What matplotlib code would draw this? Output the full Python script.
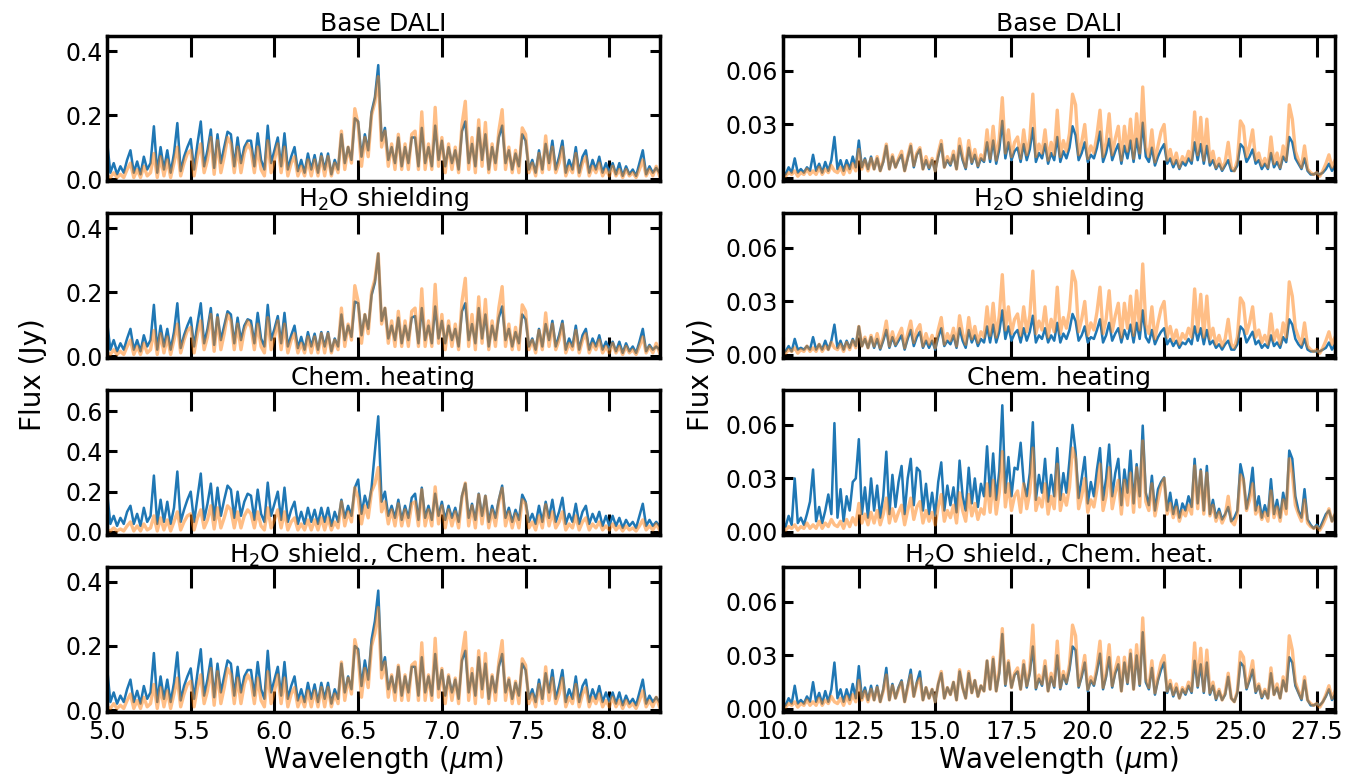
import numpy as np
import matplotlib
matplotlib.use("Agg")
import matplotlib.pyplot as plt

plt.rcParams['font.family'] = ['DejaVu Sans']

# sampling of the read-off spectra (micron)
short_start, short_step = 5.0, 0.02
long_start, long_step = 10.0, 0.1

titles = ["Base DALI", "H$_2$O shielding", "Chem. heating", "H$_2$O shield., Chem. heat."]

# orange spectrum (same in every row), short wavelengths
orange_short = [
    0.01, 0.005, 0.02, 0.005, 0.015, 0.005, 0.03, 0.05, 0.005, 0.03,
    0.005, 0.04, 0.01, 0.02, 0.08, 0.005, 0.07, 0.01, 0.06, 0.005,
    0.05, 0.10, 0.01, 0.05, 0.08, 0.09, 0.01, 0.07, 0.11, 0.02,
    0.06, 0.13, 0.015, 0.12, 0.02, 0.07, 0.13, 0.11, 0.02, 0.10,
    0.02, 0.08, 0.11, 0.09, 0.02, 0.10, 0.03, 0.01, 0.12, 0.02,
    0.06, 0.11, 0.02, 0.10, 0.01, 0.05, 0.07, 0.01, 0.04, 0.01,
    0.06, 0.01, 0.06, 0.01, 0.07, 0.01, 0.07, 0.01, 0.05, 0.02,
    0.15, 0.03, 0.10, 0.05, 0.22, 0.17, 0.04, 0.13, 0.07, 0.20,
    0.24, 0.32, 0.10, 0.15, 0.04, 0.11, 0.03, 0.14, 0.03, 0.11,
    0.03, 0.14, 0.15, 0.03, 0.21, 0.03, 0.11, 0.03, 0.224, 0.04,
    0.13, 0.02, 0.11, 0.03, 0.10, 0.02, 0.17, 0.243, 0.03, 0.13,
    0.02, 0.185, 0.04, 0.177, 0.02, 0.11, 0.03, 0.15, 0.217, 0.03,
    0.10, 0.02, 0.09, 0.02, 0.16, 0.14, 0.02, 0.05, 0.01, 0.08,
    0.02, 0.135, 0.03, 0.10, 0.02, 0.05, 0.10, 0.01, 0.04, 0.02,
    0.08, 0.01, 0.05, 0.07, 0.01, 0.04, 0.02, 0.05, 0.01, 0.03,
    0.01, 0.04, 0.01, 0.03, 0.005, 0.03, 0.01, 0.02, 0.005, 0.03,
    0.06, 0.01, 0.03, 0.01, 0.04, 0.01]

base_short = [
    0.12, 0.02, 0.05, 0.015, 0.04, 0.02, 0.06, 0.09, 0.02, 0.055,
    0.015, 0.07, 0.03, 0.05, 0.165, 0.02, 0.10, 0.03, 0.09, 0.02,
    0.08, 0.175, 0.025, 0.07, 0.10, 0.125, 0.03, 0.11, 0.18, 0.04,
    0.09, 0.155, 0.035, 0.14, 0.05, 0.10, 0.148, 0.14, 0.04, 0.13,
    0.05, 0.10, 0.12, 0.12, 0.04, 0.143, 0.06, 0.03, 0.167, 0.05,
    0.09, 0.13, 0.04, 0.143, 0.03, 0.07, 0.10, 0.025, 0.06, 0.02,
    0.08, 0.03, 0.075, 0.02, 0.08, 0.03, 0.08, 0.015, 0.06, 0.03,
    0.14, 0.05, 0.10, 0.06, 0.19, 0.18, 0.07, 0.14, 0.09, 0.21,
    0.255, 0.356, 0.12, 0.16, 0.06, 0.10, 0.05, 0.13, 0.04, 0.10,
    0.05, 0.13, 0.13, 0.04, 0.16, 0.05, 0.10, 0.04, 0.167, 0.06,
    0.12, 0.04, 0.10, 0.05, 0.09, 0.03, 0.15, 0.18, 0.05, 0.11,
    0.04, 0.16, 0.06, 0.14, 0.03, 0.10, 0.05, 0.13, 0.167, 0.05,
    0.09, 0.03, 0.08, 0.04, 0.14, 0.12, 0.03, 0.06, 0.02, 0.09,
    0.03, 0.11, 0.05, 0.12, 0.03, 0.07, 0.12, 0.02, 0.06, 0.03,
    0.10, 0.02, 0.07, 0.09, 0.02, 0.06, 0.03, 0.07, 0.02, 0.05,
    0.02, 0.05, 0.015, 0.05, 0.01, 0.04, 0.015, 0.03, 0.01, 0.05,
    0.09, 0.015, 0.04, 0.02, 0.035, 0.02]

shield_short = [
    0.11, 0.02, 0.05, 0.015, 0.04, 0.02, 0.055, 0.085, 0.02, 0.05,
    0.015, 0.065, 0.03, 0.05, 0.16, 0.02, 0.095, 0.03, 0.085, 0.02,
    0.075, 0.165, 0.025, 0.065, 0.095, 0.12, 0.03, 0.10, 0.165, 0.04,
    0.085, 0.15, 0.035, 0.13, 0.05, 0.095, 0.14, 0.13, 0.04, 0.12,
    0.05, 0.095, 0.115, 0.11, 0.04, 0.135, 0.055, 0.03, 0.16, 0.05,
    0.085, 0.125, 0.04, 0.135, 0.03, 0.065, 0.095, 0.025, 0.06, 0.02,
    0.075, 0.03, 0.07, 0.02, 0.075, 0.03, 0.075, 0.015, 0.055, 0.03,
    0.13, 0.05, 0.095, 0.06, 0.17, 0.165, 0.065, 0.13, 0.085, 0.19,
    0.23, 0.32, 0.11, 0.15, 0.055, 0.095, 0.05, 0.12, 0.04, 0.095,
    0.05, 0.12, 0.125, 0.04, 0.15, 0.05, 0.095, 0.04, 0.155, 0.055,
    0.11, 0.04, 0.095, 0.05, 0.085, 0.03, 0.14, 0.165, 0.05, 0.10,
    0.04, 0.15, 0.055, 0.13, 0.03, 0.095, 0.05, 0.12, 0.155, 0.05,
    0.085, 0.03, 0.075, 0.04, 0.13, 0.115, 0.03, 0.055, 0.02, 0.085,
    0.03, 0.10, 0.05, 0.11, 0.03, 0.065, 0.11, 0.02, 0.055, 0.03,
    0.095, 0.02, 0.065, 0.085, 0.02, 0.055, 0.03, 0.065, 0.02, 0.045,
    0.02, 0.045, 0.015, 0.045, 0.01, 0.04, 0.015, 0.03, 0.01, 0.045,
    0.085, 0.015, 0.035, 0.02, 0.03, 0.02]

chem_short = [
    0.20, 0.04, 0.08, 0.03, 0.07, 0.04, 0.10, 0.13, 0.04, 0.09,
    0.03, 0.12, 0.05, 0.08, 0.28, 0.04, 0.16, 0.05, 0.15, 0.04,
    0.12, 0.30, 0.05, 0.11, 0.16, 0.20, 0.05, 0.17, 0.29, 0.06,
    0.14, 0.24, 0.06, 0.22, 0.08, 0.16, 0.23, 0.21, 0.07, 0.20,
    0.08, 0.15, 0.19, 0.18, 0.06, 0.21, 0.09, 0.05, 0.245, 0.08,
    0.14, 0.20, 0.06, 0.22, 0.05, 0.11, 0.15, 0.04, 0.10, 0.04,
    0.12, 0.05, 0.11, 0.04, 0.12, 0.05, 0.12, 0.03, 0.10, 0.05,
    0.16, 0.07, 0.13, 0.08, 0.22, 0.26, 0.09, 0.18, 0.12, 0.22,
    0.40, 0.574, 0.15, 0.20, 0.08, 0.13, 0.07, 0.16, 0.06, 0.13,
    0.07, 0.17, 0.19, 0.06, 0.22, 0.07, 0.13, 0.06, 0.19, 0.08,
    0.15, 0.06, 0.13, 0.07, 0.12, 0.05, 0.18, 0.24, 0.07, 0.14,
    0.06, 0.19, 0.08, 0.18, 0.05, 0.13, 0.07, 0.16, 0.23, 0.07,
    0.12, 0.05, 0.11, 0.06, 0.185, 0.15, 0.05, 0.09, 0.04, 0.13,
    0.05, 0.15, 0.07, 0.16, 0.05, 0.10, 0.17, 0.04, 0.09, 0.05,
    0.14, 0.04, 0.10, 0.13, 0.04, 0.09, 0.05, 0.10, 0.03, 0.08,
    0.03, 0.08, 0.03, 0.07, 0.02, 0.06, 0.03, 0.05, 0.02, 0.08,
    0.14, 0.03, 0.06, 0.03, 0.05, 0.03]

both_short = [
    0.135, 0.025, 0.055, 0.02, 0.045, 0.025, 0.065, 0.095, 0.025, 0.06,
    0.02, 0.075, 0.035, 0.055, 0.178, 0.025, 0.105, 0.035, 0.095, 0.025,
    0.085, 0.18, 0.03, 0.075, 0.105, 0.13, 0.035, 0.115, 0.19, 0.045,
    0.095, 0.16, 0.04, 0.145, 0.055, 0.105, 0.155, 0.145, 0.045, 0.135,
    0.055, 0.105, 0.125, 0.125, 0.045, 0.15, 0.065, 0.035, 0.185, 0.055,
    0.095, 0.135, 0.045, 0.15, 0.035, 0.075, 0.105, 0.03, 0.065, 0.025,
    0.085, 0.035, 0.08, 0.025, 0.085, 0.035, 0.085, 0.02, 0.065, 0.035,
    0.145, 0.055, 0.105, 0.065, 0.20, 0.19, 0.075, 0.155, 0.095, 0.22,
    0.278, 0.373, 0.125, 0.165, 0.065, 0.105, 0.055, 0.135, 0.045, 0.105,
    0.055, 0.135, 0.135, 0.045, 0.165, 0.055, 0.105, 0.045, 0.175, 0.065,
    0.125, 0.045, 0.105, 0.055, 0.095, 0.035, 0.155, 0.185, 0.055, 0.115,
    0.045, 0.165, 0.065, 0.145, 0.035, 0.105, 0.055, 0.135, 0.175, 0.055,
    0.095, 0.035, 0.085, 0.045, 0.145, 0.125, 0.035, 0.065, 0.025, 0.095,
    0.035, 0.115, 0.055, 0.125, 0.035, 0.075, 0.125, 0.025, 0.065, 0.035,
    0.105, 0.025, 0.075, 0.095, 0.025, 0.065, 0.035, 0.075, 0.025, 0.055,
    0.025, 0.055, 0.02, 0.055, 0.015, 0.045, 0.02, 0.035, 0.015, 0.055,
    0.095, 0.02, 0.045, 0.025, 0.04, 0.025]

# long wavelengths
orange_long = [
    0.002, 0.001, 0.003, 0.002, 0.004, 0.001, 0.003, 0.002, 0.005, 0.002,
    0.004, 0.002, 0.006, 0.002, 0.005, 0.003, 0.007, 0.004, 0.003, 0.006,
    0.002, 0.007, 0.003, 0.008, 0.004, 0.016, 0.005, 0.010, 0.004, 0.011,
    0.005, 0.012, 0.004, 0.010, 0.019, 0.005, 0.013, 0.006, 0.011, 0.015,
    0.004, 0.012, 0.019, 0.007, 0.014, 0.017, 0.005, 0.012, 0.006, 0.011,
    0.004, 0.014, 0.021, 0.006, 0.012, 0.008, 0.015, 0.005, 0.022, 0.012,
    0.006, 0.021, 0.009, 0.016, 0.007, 0.013, 0.010, 0.027, 0.011, 0.029,
    0.010, 0.022, 0.045, 0.014, 0.027, 0.012, 0.020, 0.023, 0.011, 0.027,
    0.013, 0.022, 0.047, 0.012, 0.019, 0.014, 0.027, 0.010, 0.020, 0.013,
    0.038, 0.012, 0.021, 0.015, 0.025, 0.047, 0.041, 0.013, 0.020, 0.030,
    0.011, 0.018, 0.014, 0.024, 0.038, 0.012, 0.020, 0.036, 0.013, 0.022,
    0.029, 0.010, 0.029, 0.015, 0.033, 0.011, 0.036, 0.014, 0.051, 0.017,
    0.012, 0.027, 0.009, 0.018, 0.026, 0.030, 0.010, 0.016, 0.008, 0.014,
    0.006, 0.012, 0.009, 0.015, 0.010, 0.037, 0.013, 0.034, 0.010, 0.033,
    0.009, 0.015, 0.006, 0.011, 0.005, 0.009, 0.020, 0.006, 0.004, 0.010,
    0.032, 0.029, 0.012, 0.018, 0.027, 0.010, 0.014, 0.007, 0.011, 0.006,
    0.023, 0.008, 0.014, 0.006, 0.018, 0.010, 0.041, 0.033, 0.015, 0.010,
    0.006, 0.018, 0.005, 0.003, 0.002, 0.003, 0.001, 0.004, 0.008, 0.013,
    0.006, 0.010]

base_long = [
    0.004, 0.002, 0.006, 0.003, 0.011, 0.003, 0.005, 0.003, 0.006, 0.004,
    0.013, 0.004, 0.008, 0.003, 0.009, 0.004, 0.010, 0.023, 0.005, 0.010,
    0.004, 0.010, 0.005, 0.012, 0.006, 0.021, 0.006, 0.011, 0.005, 0.012,
    0.005, 0.011, 0.004, 0.009, 0.018, 0.005, 0.012, 0.006, 0.010, 0.013,
    0.004, 0.011, 0.018, 0.006, 0.013, 0.016, 0.005, 0.010, 0.005, 0.010,
    0.004, 0.012, 0.019, 0.006, 0.010, 0.007, 0.013, 0.005, 0.018, 0.010,
    0.005, 0.017, 0.008, 0.013, 0.006, 0.011, 0.009, 0.020, 0.009, 0.021,
    0.008, 0.016, 0.032, 0.011, 0.020, 0.010, 0.015, 0.017, 0.009, 0.019,
    0.010, 0.016, 0.028, 0.009, 0.014, 0.011, 0.019, 0.008, 0.014, 0.010,
    0.023, 0.009, 0.015, 0.011, 0.017, 0.029, 0.024, 0.010, 0.014, 0.020,
    0.009, 0.013, 0.011, 0.017, 0.026, 0.009, 0.014, 0.022, 0.010, 0.015,
    0.019, 0.008, 0.018, 0.011, 0.021, 0.009, 0.022, 0.011, 0.031, 0.012,
    0.009, 0.017, 0.007, 0.012, 0.016, 0.019, 0.008, 0.011, 0.006, 0.010,
    0.005, 0.009, 0.007, 0.011, 0.008, 0.020, 0.010, 0.019, 0.008, 0.018,
    0.007, 0.010, 0.005, 0.008, 0.004, 0.007, 0.010, 0.004, 0.004, 0.007,
    0.019, 0.017, 0.009, 0.012, 0.016, 0.008, 0.010, 0.005, 0.008, 0.005,
    0.014, 0.006, 0.009, 0.005, 0.012, 0.009, 0.023, 0.020, 0.011, 0.008,
    0.005, 0.011, 0.004, 0.002, 0.002, 0.003, 0.002, 0.003, 0.005, 0.008,
    0.004, 0.007]

shield_long = [
    0.003, 0.002, 0.005, 0.002, 0.009, 0.003, 0.004, 0.003, 0.005, 0.003,
    0.010, 0.003, 0.006, 0.003, 0.008, 0.003, 0.008, 0.017, 0.004, 0.008,
    0.003, 0.008, 0.004, 0.009, 0.005, 0.016, 0.005, 0.009, 0.004, 0.010,
    0.004, 0.009, 0.003, 0.008, 0.014, 0.004, 0.010, 0.005, 0.008, 0.011,
    0.003, 0.009, 0.014, 0.005, 0.010, 0.013, 0.004, 0.008, 0.004, 0.008,
    0.003, 0.010, 0.015, 0.005, 0.008, 0.006, 0.011, 0.004, 0.015, 0.008,
    0.004, 0.014, 0.007, 0.011, 0.005, 0.009, 0.007, 0.016, 0.007, 0.017,
    0.007, 0.013, 0.025, 0.009, 0.016, 0.008, 0.012, 0.014, 0.007, 0.015,
    0.008, 0.013, 0.022, 0.007, 0.011, 0.009, 0.015, 0.007, 0.011, 0.008,
    0.018, 0.007, 0.012, 0.009, 0.014, 0.023, 0.019, 0.008, 0.011, 0.016,
    0.007, 0.010, 0.009, 0.014, 0.020, 0.007, 0.011, 0.018, 0.008, 0.012,
    0.015, 0.007, 0.014, 0.009, 0.017, 0.007, 0.018, 0.009, 0.025, 0.010,
    0.007, 0.014, 0.006, 0.010, 0.013, 0.015, 0.006, 0.009, 0.005, 0.008,
    0.004, 0.007, 0.006, 0.009, 0.006, 0.016, 0.008, 0.015, 0.006, 0.014,
    0.006, 0.008, 0.004, 0.006, 0.003, 0.006, 0.008, 0.003, 0.003, 0.006,
    0.016, 0.014, 0.007, 0.010, 0.013, 0.006, 0.008, 0.004, 0.006, 0.004,
    0.011, 0.005, 0.007, 0.004, 0.010, 0.007, 0.020, 0.017, 0.009, 0.006,
    0.004, 0.009, 0.003, 0.002, 0.002, 0.002, 0.002, 0.003, 0.004, 0.007,
    0.003, 0.006]

chem_long = [
    0.006, 0.003, 0.009, 0.004, 0.030, 0.005, 0.008, 0.004, 0.010, 0.017,
    0.035, 0.006, 0.014, 0.005, 0.012, 0.021, 0.010, 0.061, 0.008, 0.024,
    0.006, 0.020, 0.012, 0.028, 0.030, 0.052, 0.010, 0.025, 0.008, 0.030,
    0.012, 0.026, 0.008, 0.020, 0.045, 0.010, 0.032, 0.014, 0.028, 0.037,
    0.010, 0.030, 0.041, 0.015, 0.036, 0.034, 0.012, 0.027, 0.010, 0.022,
    0.009, 0.028, 0.039, 0.012, 0.026, 0.015, 0.025, 0.011, 0.040, 0.020,
    0.012, 0.036, 0.016, 0.030, 0.014, 0.027, 0.020, 0.048, 0.020, 0.044,
    0.018, 0.034, 0.071, 0.022, 0.042, 0.020, 0.036, 0.035, 0.050, 0.028,
    0.020, 0.033, 0.0615, 0.018, 0.032, 0.022, 0.041, 0.017, 0.032, 0.020,
    0.047, 0.018, 0.033, 0.022, 0.040, 0.060, 0.045, 0.019, 0.030, 0.042,
    0.016, 0.028, 0.020, 0.035, 0.047, 0.018, 0.030, 0.049, 0.020, 0.033,
    0.041, 0.015, 0.035, 0.022, 0.0456, 0.016, 0.038, 0.020, 0.0596, 0.022,
    0.015, 0.0315, 0.012, 0.024, 0.028, 0.0306, 0.012, 0.022, 0.010, 0.018,
    0.008, 0.016, 0.012, 0.020, 0.014, 0.041, 0.016, 0.035, 0.012, 0.037,
    0.010, 0.018, 0.008, 0.013, 0.007, 0.010, 0.014, 0.006, 0.008, 0.012,
    0.038, 0.030, 0.013, 0.022, 0.036, 0.012, 0.020, 0.008, 0.015, 0.009,
    0.0296, 0.010, 0.018, 0.008, 0.022, 0.013, 0.0456, 0.041, 0.020, 0.012,
    0.008, 0.024, 0.007, 0.004, 0.002, 0.004, 0.002, 0.006, 0.010, 0.012,
    0.006, 0.010]

both_long = [
    0.004, 0.002, 0.006, 0.003, 0.013, 0.003, 0.005, 0.003, 0.007, 0.004,
    0.015, 0.004, 0.009, 0.003, 0.010, 0.004, 0.011, 0.026, 0.006, 0.011,
    0.004, 0.011, 0.005, 0.014, 0.006, 0.024, 0.006, 0.012, 0.005, 0.013,
    0.005, 0.013, 0.004, 0.011, 0.023, 0.005, 0.014, 0.006, 0.012, 0.016,
    0.004, 0.013, 0.022, 0.007, 0.015, 0.021, 0.005, 0.012, 0.006, 0.011,
    0.004, 0.014, 0.020, 0.006, 0.012, 0.008, 0.015, 0.005, 0.021, 0.012,
    0.006, 0.020, 0.009, 0.016, 0.007, 0.013, 0.010, 0.027, 0.011, 0.028,
    0.010, 0.020, 0.042, 0.013, 0.026, 0.012, 0.019, 0.021, 0.011, 0.025,
    0.012, 0.020, 0.035, 0.011, 0.017, 0.013, 0.024, 0.010, 0.018, 0.012,
    0.030, 0.011, 0.019, 0.014, 0.022, 0.035, 0.033, 0.012, 0.018, 0.026,
    0.010, 0.016, 0.013, 0.021, 0.031, 0.011, 0.018, 0.029, 0.012, 0.020,
    0.025, 0.010, 0.026, 0.014, 0.031, 0.011, 0.030, 0.013, 0.043, 0.015,
    0.011, 0.023, 0.008, 0.016, 0.022, 0.026, 0.009, 0.014, 0.007, 0.012,
    0.006, 0.011, 0.008, 0.013, 0.009, 0.027, 0.012, 0.025, 0.009, 0.026,
    0.008, 0.013, 0.005, 0.010, 0.005, 0.008, 0.018, 0.006, 0.004, 0.009,
    0.026, 0.024, 0.011, 0.016, 0.022, 0.009, 0.013, 0.006, 0.010, 0.006,
    0.020, 0.008, 0.012, 0.006, 0.016, 0.010, 0.029, 0.026, 0.013, 0.009,
    0.005, 0.016, 0.005, 0.002, 0.002, 0.003, 0.002, 0.004, 0.007, 0.011,
    0.005, 0.008]

blue_short = [base_short, shield_short, chem_short, both_short]
blue_long = [base_long, shield_long, chem_long, both_long]

fig, axes = plt.subplots(4, 2, figsize=(13.58, 7.77), dpi=100, sharex='col')
fig.subplots_adjust(left=0.0788, right=0.9831, top=0.9537, bottom=0.0837,
                    wspace=0.2226, hspace=0.22)

for row in range(4):
    for col in range(2):
        ax = axes[row, col]
        if col == 0:
            yb, yo = blue_short[row], orange_short
            x = short_start + short_step * np.arange(len(yb))
            xo = short_start + short_step * np.arange(len(yo))
        else:
            yb, yo = blue_long[row], orange_long
            x = long_start + long_step * np.arange(len(yb))
            xo = long_start + long_step * np.arange(len(yo))
        ax.plot(x, yb, color='#1f77b4', lw=1.8)
        ax.plot(xo, yo, color='#ff7f0e', lw=2.4, alpha=0.5)
        ax.set_title(titles[row], fontsize=18, pad=3)

        if col == 0:
            ax.set_xlim(5.0, 8.3)
            ax.set_xticks(np.arange(5.0, 8.01, 0.5))
            if row == 2:
                ax.set_ylim(-0.015, 0.705)
                ax.set_yticks([0.0, 0.2, 0.4, 0.6])
            else:
                ax.set_ylim(-0.006, 0.447)
                ax.set_yticks([0.0, 0.2, 0.4])
        else:
            ax.set_xlim(10.0, 28.1)
            ax.set_xticks(np.arange(10.0, 27.6, 2.5))
            ax.set_ylim(-0.0017, 0.0796)
            ax.set_yticks([0.0, 0.03, 0.06])

        ax.tick_params(axis='both', which='major', direction='in', top=True,
                       right=True, labelsize=17, width=2.2)
        ax.tick_params(axis='x', length=15, pad=6)
        ax.tick_params(axis='y', length=7, pad=3)
        for sp in ax.spines.values():
            sp.set_linewidth(2.5)

for col in range(2):
    axes[3, col].set_xlabel(r'Wavelength ($\mu$m)', fontsize=20, labelpad=0)

fig.text(0.024, 0.518, 'Flux (Jy)', rotation=90, fontsize=20,
         ha='center', va='center')
fig.text(0.516, 0.518, 'Flux (Jy)', rotation=90, fontsize=20,
         ha='center', va='center')

fig.savefig('out.png', dpi=100)
